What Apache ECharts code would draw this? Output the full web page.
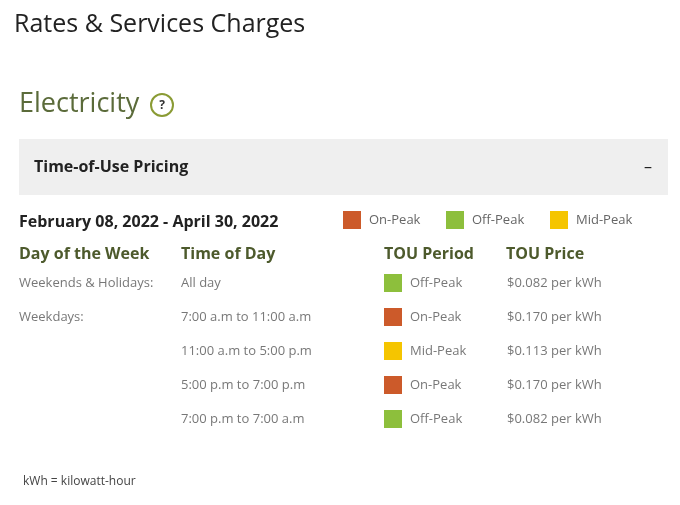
<!DOCTYPE html>
<html><head><meta charset="utf-8">
<script src="https://cdn.jsdelivr.net/npm/echarts@6/dist/echarts.min.js"></script>
<style>html,body{margin:0;background:#fff}#c{width:680px;height:505px}</style>
</head><body><div id="c"></div>
<script>
var chart = echarts.init(document.getElementById('c'));
var font = "'Liberation Sans Narrow', 'Open Sans', sans-serif";

// table data
var days = ['Weekends & Holidays:', 'Weekdays:', '', '', ''];
var times = ['All day', '7:00 a.m to 11:00 a.m', '11:00 a.m to 5:00 p.m', '5:00 p.m to 7:00 p.m', '7:00 p.m to 7:00 a.m'];
var periods = ['Off-Peak', 'On-Peak', 'Mid-Peak', 'On-Peak', 'Off-Peak'];
var prices = [0.082, 0.170, 0.113, 0.170, 0.082];
var legendNames = ['On-Peak', 'Off-Peak', 'Mid-Peak'];
var periodColors = {'On-Peak': '#cc5a2a', 'Off-Peak': '#8dbf3c', 'Mid-Peak': '#f5c500'};
var rows = [0, 1, 2, 3, 4];

var textCol = function (x, arr) {
    return {
        type: 'scatter', symbolSize: 0, silent: true,
        data: arr.map(function (t, i) { return [x, i, t]; }),
        label: {show: true, position: 'right', distance: 0, formatter: function (p) { return p.data[2]; },
                color: '#555', fontSize: 13, fontFamily: font}
    };
};

var legendX = [343, 446, 550];
var graphics = [
    {type: 'text', x: 14, y: 25, style: {text: 'Rates & Services Charges', fontSize: 25, fontFamily: font, fill: '#222', verticalAlign: 'middle'}},
    {type: 'text', x: 19, y: 104, style: {text: 'Electricity', fontSize: 27, fontFamily: font, fill: '#5b6b3a', verticalAlign: 'middle'}},
    {type: 'circle', shape: {cx: 162, cy: 105, r: 11}, style: {fill: 'none', stroke: '#8a9b34', lineWidth: 2}},
    {type: 'text', x: 162, y: 106, style: {text: '?', fontSize: 12, fontWeight: 'bold', fontFamily: font, fill: '#333', align: 'center', verticalAlign: 'middle'}},
    {type: 'rect', shape: {x: 19, y: 139, width: 649, height: 56}, style: {fill: '#efefef'}},
    {type: 'text', x: 34, y: 167, style: {text: 'Time-of-Use Pricing', fontSize: 16, fontWeight: 'bold', fontFamily: font, fill: '#222', verticalAlign: 'middle'}},
    {type: 'text', x: 648, y: 167, style: {text: '–', fontSize: 16, fontFamily: font, fill: '#222', verticalAlign: 'middle', align: 'center'}},
    {type: 'text', x: 19, y: 222, style: {text: 'February 08, 2022 - April 30, 2022', fontSize: 16, fontWeight: 'bold', fontFamily: font, fill: '#222', verticalAlign: 'middle'}},
    {type: 'text', x: 19, y: 254, style: {text: 'Day of the Week', fontSize: 16, fontWeight: 'bold', fontFamily: font, fill: '#4d5a2c', verticalAlign: 'middle'}},
    {type: 'text', x: 181, y: 254, style: {text: 'Time of Day', fontSize: 16, fontWeight: 'bold', fontFamily: font, fill: '#4d5a2c', verticalAlign: 'middle'}},
    {type: 'text', x: 384, y: 254, style: {text: 'TOU Period', fontSize: 16, fontWeight: 'bold', fontFamily: font, fill: '#4d5a2c', verticalAlign: 'middle'}},
    {type: 'text', x: 506, y: 254, style: {text: 'TOU Price', fontSize: 16, fontWeight: 'bold', fontFamily: font, fill: '#4d5a2c', verticalAlign: 'middle'}},
    {type: 'text', x: 23, y: 482, style: {text: 'kWh = kilowatt-hour', fontSize: 12, fontFamily: font, fill: '#444', verticalAlign: 'middle'}}
];
legendNames.forEach(function (n, i) {
    graphics.push({type: 'rect', shape: {x: legendX[i], y: 211, width: 18, height: 18}, style: {fill: periodColors[n]}});
    graphics.push({type: 'text', x: legendX[i] + 26, y: 220, style: {text: n, fontSize: 13, fontFamily: font, fill: '#666', verticalAlign: 'middle'}});
});

chart.setOption({
    animation: false,
    graphic: graphics,
    grid: {left: 0, right: 0, top: 266, height: 170},
    xAxis: {type: 'value', min: 0, max: 680, show: false},
    yAxis: {type: 'category', data: rows, inverse: true, show: false},
    series: [
        textCol(19, days),
        textCol(181, times),
        textCol(410, periods),
        textCol(507, prices.map(function (p) { return '$' + p.toFixed(3) + ' per kWh'; })),
        {
            type: 'scatter', symbol: 'rect', symbolSize: 18, silent: true,
            itemStyle: {opacity: 1},
            data: periods.map(function (p, i) { return {value: [393, i], itemStyle: {color: periodColors[p]}}; })
        }
    ]
});
</script></body></html>
